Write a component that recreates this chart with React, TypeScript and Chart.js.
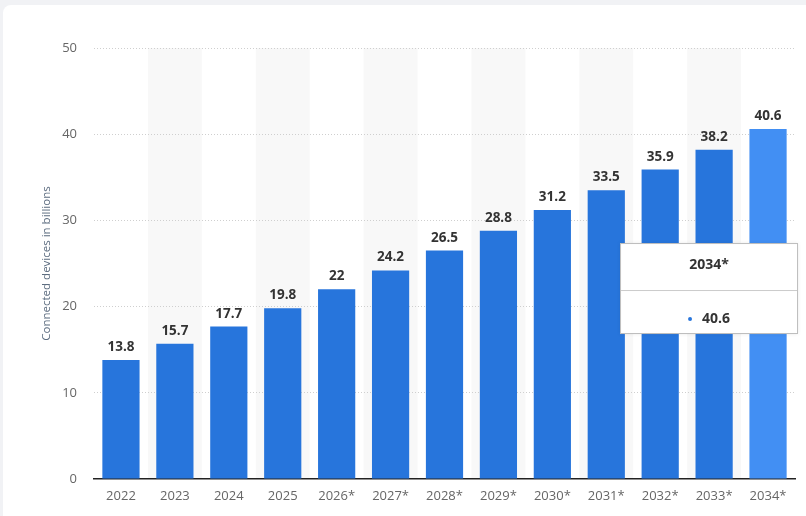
import React, { useEffect, useRef } from "react";
import { Chart, registerables } from "chart.js";

Chart.register(...registerables);

const categories = ["2022", "2023", "2024", "2025", "2026*", "2027*", "2028*", "2029*", "2030*", "2031*", "2032*", "2033*", "2034*"];
const deviceValues = [13.8, 15.7, 17.7, 19.8, 22, 24.2, 26.5, 28.8, 31.2, 33.5, 35.9, 38.2, 40.6];
const yTicks = [0, 10, 20, 30, 40, 50];
const axisTitle = "Connected devices in billions";
const highlightIndex = 12;

const FONT = "'Open Sans', 'DejaVu Sans', sans-serif";
const BAR = "#2775dc";
const BAR_HOVER = "#428ff3";

const bandPlugin = {
  id: "bands",
  beforeDraw(chart: any) {
    const { ctx, chartArea, scales } = chart;
    const x = scales.x;
    ctx.save();
    ctx.fillStyle = "#f8f8f8";
    categories.forEach((_, i) => {
      if (i % 2 === 1) {
        const c = x.getPixelForValue(i);
        const w = x.getPixelForValue(1) - x.getPixelForValue(0);
        ctx.fillRect(c - w / 2, chartArea.top, w, chartArea.bottom - chartArea.top);
      }
    });
    ctx.restore();
  },
};

const labelPlugin = {
  id: "valueLabels",
  afterDatasetsDraw(chart: any) {
    const { ctx } = chart;
    const meta = chart.getDatasetMeta(0);
    ctx.save();
    ctx.font = `bold 13.5px ${FONT}`;
    ctx.fillStyle = "#333333";
    ctx.textAlign = "center";
    ctx.textBaseline = "bottom";
    meta.data.forEach((bar: any, i: number) => {
      ctx.fillText(String(deviceValues[i]), bar.x, bar.y - 6);
    });
    ctx.restore();
  },
};

const tooltipPlugin = {
  id: "fixedTooltip",
  afterDraw(chart: any) {
    const { ctx } = chart;
    const bar = chart.getDatasetMeta(0).data[highlightIndex];
    if (!bar) return;
    const w = 178;
    const h = 91;
    const right = bar.x + 30;
    const left = right - w;
    const top = bar.y + 114;
    ctx.save();
    ctx.shadowColor = "rgba(0,0,0,0.08)";
    ctx.shadowBlur = 4;
    ctx.fillStyle = "#ffffff";
    ctx.fillRect(left, top, w, h);
    ctx.shadowColor = "transparent";
    ctx.strokeStyle = "#bdbdbd";
    ctx.lineWidth = 1;
    ctx.strokeRect(left + 0.5, top + 0.5, w - 1, h - 1);
    ctx.strokeStyle = "#cccccc";
    ctx.beginPath();
    ctx.moveTo(left + 1, top + 47.5);
    ctx.lineTo(right - 1, top + 47.5);
    ctx.stroke();
    ctx.fillStyle = "#333333";
    ctx.font = `bold 14px ${FONT}`;
    ctx.textAlign = "center";
    ctx.textBaseline = "middle";
    const cx = left + w / 2;
    ctx.fillText(categories[highlightIndex], cx, top + 22);
    const val = String(deviceValues[highlightIndex]);
    const vw = ctx.measureText(val).width;
    ctx.textAlign = "left";
    const startX = cx - (vw + 14) / 2;
    ctx.fillStyle = BAR;
    ctx.beginPath();
    ctx.arc(startX + 2, top + 76, 2, 0, Math.PI * 2);
    ctx.fill();
    ctx.fillStyle = "#333333";
    ctx.fillText(val, startX + 14, top + 76);
    ctx.restore();
  },
};

export default function App() {
  const ref = useRef<HTMLCanvasElement>(null);
  useEffect(() => {
    if (!ref.current) return;
    const chart = new Chart(ref.current, {
      type: "bar",
      data: {
        labels: categories,
        datasets: [
          {
            data: deviceValues,
            backgroundColor: deviceValues.map((_, i) => (i === highlightIndex ? BAR_HOVER : BAR)),
            categoryPercentage: 1,
            barPercentage: 0.69,
            borderWidth: 0,
          },
        ],
      },
      options: {
        animation: false,
        responsive: false,
        maintainAspectRatio: false,
        layout: { padding: { top: 48, right: 11, left: 0, bottom: 0 } },
        plugins: { legend: { display: false }, tooltip: { enabled: false } },
        scales: {
          x: {
            grid: { display: false, drawTicks: false },
            border: { display: true, color: "#222222", width: 1.5 },
            ticks: { color: "#666666", font: { family: FONT, size: 13 }, padding: 9, maxRotation: 0, autoSkip: false },
            afterFit(scale: any) {
              scale.height = 37;
            },
          },
          y: {
            min: 0,
            max: 50,
            afterBuildTicks(scale: any) {
              scale.ticks = yTicks.map((v) => ({ value: v }));
            },
            grid: {
              color: (c: any) => (c.tick && c.tick.value === 0 ? "rgba(0,0,0,0)" : "#cfcfcf"),
              drawTicks: false,
              lineWidth: 1,
            },
            border: { display: false, dash: [1, 2] },
            ticks: { color: "#666666", font: { family: FONT, size: 13 }, padding: 17 },
            title: {
              display: true,
              text: axisTitle,
              color: "#5d6d80",
              font: { family: FONT, size: 11.5 },
              padding: { top: 40, bottom: 0 },
            },
            afterFit(scale: any) {
              scale.width = 94;
            },
          },
        },
      },
      plugins: [bandPlugin, labelPlugin, tooltipPlugin],
    } as any);
    return () => chart.destroy();
  }, []);
  return (
    <div style={{ position: "fixed", left: 0, top: 0, width: 806, height: 516, background: "#f1f2f5", overflow: "hidden" }}>
      <div style={{ position: "absolute", left: 3, top: 5, width: 812, height: 520, background: "#ffffff", borderRadius: 8 }} />
      <canvas ref={ref} width={806} height={516} style={{ position: "absolute", left: 0, top: 0, width: 806, height: 516 }} />
    </div>
  );
}
